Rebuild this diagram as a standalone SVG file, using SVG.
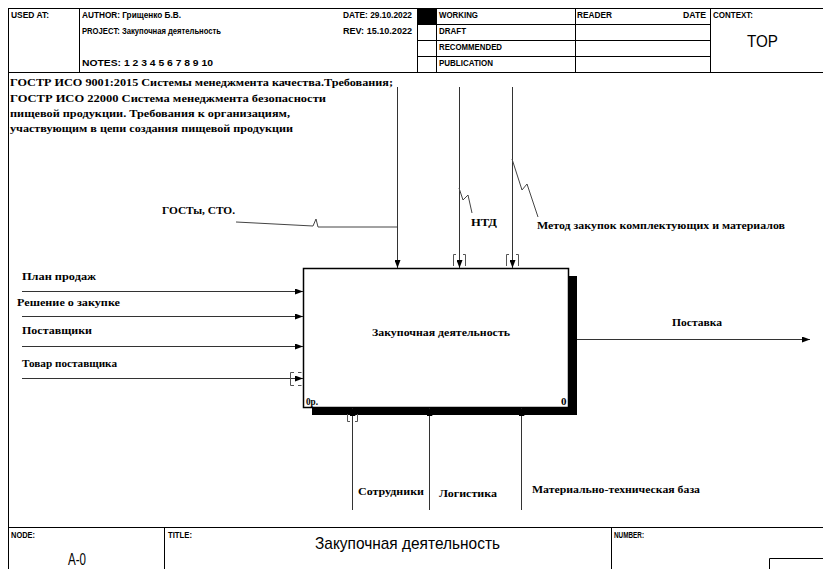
<svg xmlns="http://www.w3.org/2000/svg" width="823" height="569" viewBox="0 0 823 569">
<style>
.fr{fill:none;stroke:#000;stroke-width:1}
.h{font-family:"Liberation Sans Narrow","Liberation Sans",sans-serif;font-weight:bold;font-size:9px;fill:#000}
.hb{font-family:"Liberation Sans Narrow","Liberation Sans",sans-serif;font-size:17px;fill:#000}
.t{font-family:"Liberation Serif",serif;font-weight:bold;font-size:11px;fill:#000}
.ln{fill:none;stroke:#333;stroke-width:1}
.sq{fill:none;stroke:#444;stroke-width:1}
.br{fill:none;stroke:#555;stroke-width:1}
</style>
<defs>
<marker id="ah" markerWidth="8" markerHeight="6" refX="8" refY="3" orient="auto" markerUnits="userSpaceOnUse">
<path d="M0,0 L8,3 L0,6 Z" fill="#000"/>
</marker>
</defs>
<g id="frame">
<line class="fr" x1="8.5" y1="8" x2="8.5" y2="569"/>
<line class="fr" x1="8" y1="8.5" x2="823" y2="8.5"/>
<line class="fr" x1="8" y1="72.5" x2="823" y2="72.5"/>
<line class="fr" x1="79.5" y1="8" x2="79.5" y2="72"/>
<line class="fr" x1="417.5" y1="8" x2="417.5" y2="72"/>
<line class="fr" x1="436.5" y1="8" x2="436.5" y2="72"/>
<line class="fr" x1="575.5" y1="8" x2="575.5" y2="72"/>
<line class="fr" x1="710.5" y1="8" x2="710.5" y2="72"/>
<line class="fr" x1="417" y1="24.5" x2="710" y2="24.5"/>
<line class="fr" x1="417" y1="40.5" x2="710" y2="40.5"/>
<line class="fr" x1="417" y1="56.5" x2="710" y2="56.5"/>
<rect x="418" y="9" width="18" height="15" fill="#000"/>
<text class="h" x="11" y="18" textLength="38" lengthAdjust="spacingAndGlyphs">USED AT:</text>
<text class="h" x="82" y="18" textLength="99" lengthAdjust="spacingAndGlyphs">AUTHOR:  Грищенко Б.В.</text>
<text class="h" x="82" y="34" textLength="139" lengthAdjust="spacingAndGlyphs">PROJECT:  Закупочная деятельность</text>
<text class="h" x="82" y="66" textLength="131" lengthAdjust="spacingAndGlyphs">NOTES:  1  2  3  4  5  6  7  8  9  10</text>
<text class="h" x="343" y="18" textLength="69" lengthAdjust="spacingAndGlyphs">DATE:  29.10.2022</text>
<text class="h" x="343" y="34" textLength="69" lengthAdjust="spacingAndGlyphs">REV:    15.10.2022</text>
<text class="h" x="439" y="18" textLength="39" lengthAdjust="spacingAndGlyphs">WORKING</text>
<text class="h" x="439" y="34" textLength="27" lengthAdjust="spacingAndGlyphs">DRAFT</text>
<text class="h" x="439" y="50" textLength="63" lengthAdjust="spacingAndGlyphs">RECOMMENDED</text>
<text class="h" x="439" y="66" textLength="54" lengthAdjust="spacingAndGlyphs">PUBLICATION</text>
<text class="h" x="577" y="18" textLength="35" lengthAdjust="spacingAndGlyphs">READER</text>
<text class="h" x="683" y="18" textLength="23" lengthAdjust="spacingAndGlyphs">DATE</text>
<text class="h" x="713" y="18" textLength="40" lengthAdjust="spacingAndGlyphs">CONTEXT:</text>
<text class="hb" x="747" y="47" textLength="31" lengthAdjust="spacingAndGlyphs">TOP</text>
<line class="fr" x1="8" y1="527.5" x2="823" y2="527.5"/>
<line class="fr" x1="164.5" y1="527" x2="164.5" y2="569"/>
<line class="fr" x1="611.5" y1="527" x2="611.5" y2="569"/>
<polyline class="fr" points="769.5,569 769.5,558.5 823,558.5"/>
<text class="h" x="11" y="538" textLength="24" lengthAdjust="spacingAndGlyphs">NODE:</text>
<text class="h" x="168" y="538" textLength="24" lengthAdjust="spacingAndGlyphs">TITLE:</text>
<text class="h" x="614" y="538" textLength="30" lengthAdjust="spacingAndGlyphs">NUMBER:</text>
<text class="hb" x="68" y="565" font-size="16" textLength="18" lengthAdjust="spacingAndGlyphs">A-0</text>
<text class="hb" x="315" y="549" textLength="185" lengthAdjust="spacingAndGlyphs">Закупочная деятельность</text>
</g>
<g id="note">
<text class="t" x="10" y="86" font-size="12" textLength="383" lengthAdjust="spacingAndGlyphs">ГОСТР ИСО  9001:2015 Системы менеджмента качества.Требования;</text>
<text class="t" x="10" y="102" font-size="12" textLength="316" lengthAdjust="spacingAndGlyphs">ГОСТР ИСО 22000 Система менеджмента безопасности</text>
<text class="t" x="10" y="117" textLength="280" lengthAdjust="spacingAndGlyphs">пищевой продукции.  Требования к организациям,</text>
<text class="t" x="10" y="132" textLength="283" lengthAdjust="spacingAndGlyphs">участвующим в цепи создания пищевой продукции</text>
</g>
<g id="node-A0">
<rect x="312" y="276" width="265" height="139" fill="#000"/>
<rect x="303.5" y="268.5" width="265" height="139" fill="#fff" stroke="#000" stroke-width="1.5"/>
<text class="t" x="372" y="336" textLength="138" lengthAdjust="spacingAndGlyphs">Закупочная деятельность</text>
<text class="t" x="306" y="405" font-size="9" textLength="12" lengthAdjust="spacingAndGlyphs">0р.</text>
<text class="t" x="561" y="405" font-size="9">0</text>
</g>
<g id="connectors">
<line class="ln" x1="22" y1="291.5" x2="303" y2="291.5" marker-end="url(#ah)"/>
<line class="ln" x1="22" y1="316.5" x2="303" y2="316.5" marker-end="url(#ah)"/>
<line class="ln" x1="22" y1="346.5" x2="303" y2="346.5" marker-end="url(#ah)"/>
<line class="ln" x1="22" y1="378.5" x2="303" y2="378.5" marker-end="url(#ah)" stroke="#000"/>
<path class="br" d="M294,372.5 H290.5 V385.5 H294 M298,372.5 H301.5 M298,385.5 H301.5"/>
<line class="ln" x1="577" y1="339.5" x2="810" y2="339.5" marker-end="url(#ah)"/>
<line class="ln" x1="397.5" y1="87" x2="397.5" y2="268" marker-end="url(#ah)"/>
<line class="ln" x1="459.5" y1="87" x2="459.5" y2="268" marker-end="url(#ah)"/>
<line class="ln" x1="512.5" y1="87" x2="512.5" y2="268" marker-end="url(#ah)"/>
<path class="br" d="M456,254.5 H453.5 V266 M463,254.5 H465.5 V266"/>
<path class="br" d="M509,254.5 H506.5 V266 M516,254.5 H518.5 V266"/>
<line class="ln" x1="352.5" y1="510" x2="352.5" y2="408" marker-end="url(#ah)"/>
<line class="ln" x1="429.5" y1="510" x2="429.5" y2="408" marker-end="url(#ah)"/>
<line class="ln" x1="521.5" y1="510" x2="521.5" y2="408" marker-end="url(#ah)"/>
<path class="br" d="M347.5,414 V421.5 H350 M357.5,414 V421.5 H355"/>
<polyline class="sq" points="236,222 313,226 316,219 318,227 397,227"/>
<polyline class="sq" points="459,188 463,200 468,195 472,213"/>
<polyline class="sq" points="512,159 522,190 527,184 538,217"/>
</g>
<g id="labels">
<text class="t" x="22" y="280" textLength="74" lengthAdjust="spacingAndGlyphs">План продаж</text>
<text class="t" x="17" y="306" textLength="103" lengthAdjust="spacingAndGlyphs">Решение о закупке</text>
<text class="t" x="22" y="334" textLength="70" lengthAdjust="spacingAndGlyphs">Поставщики</text>
<text class="t" x="22" y="367" textLength="95" lengthAdjust="spacingAndGlyphs">Товар поставщика</text>
<text class="t" x="672" y="326" textLength="50" lengthAdjust="spacingAndGlyphs">Поставка</text>
<text class="t" x="162" y="214" textLength="73" lengthAdjust="spacingAndGlyphs">ГОСТы, СТО.</text>
<text class="t" x="471" y="226" font-size="12" textLength="26" lengthAdjust="spacingAndGlyphs">НТД</text>
<text class="t" x="537" y="229" textLength="248" lengthAdjust="spacingAndGlyphs">Метод закупок комплектующих и материалов</text>
<text class="t" x="358" y="495" textLength="66" lengthAdjust="spacingAndGlyphs">Сотрудники</text>
<text class="t" x="439" y="497" textLength="58" lengthAdjust="spacingAndGlyphs">Логистика</text>
<text class="t" x="532" y="493" textLength="168" lengthAdjust="spacingAndGlyphs">Материально-техническая база</text>
</g>
</svg>
